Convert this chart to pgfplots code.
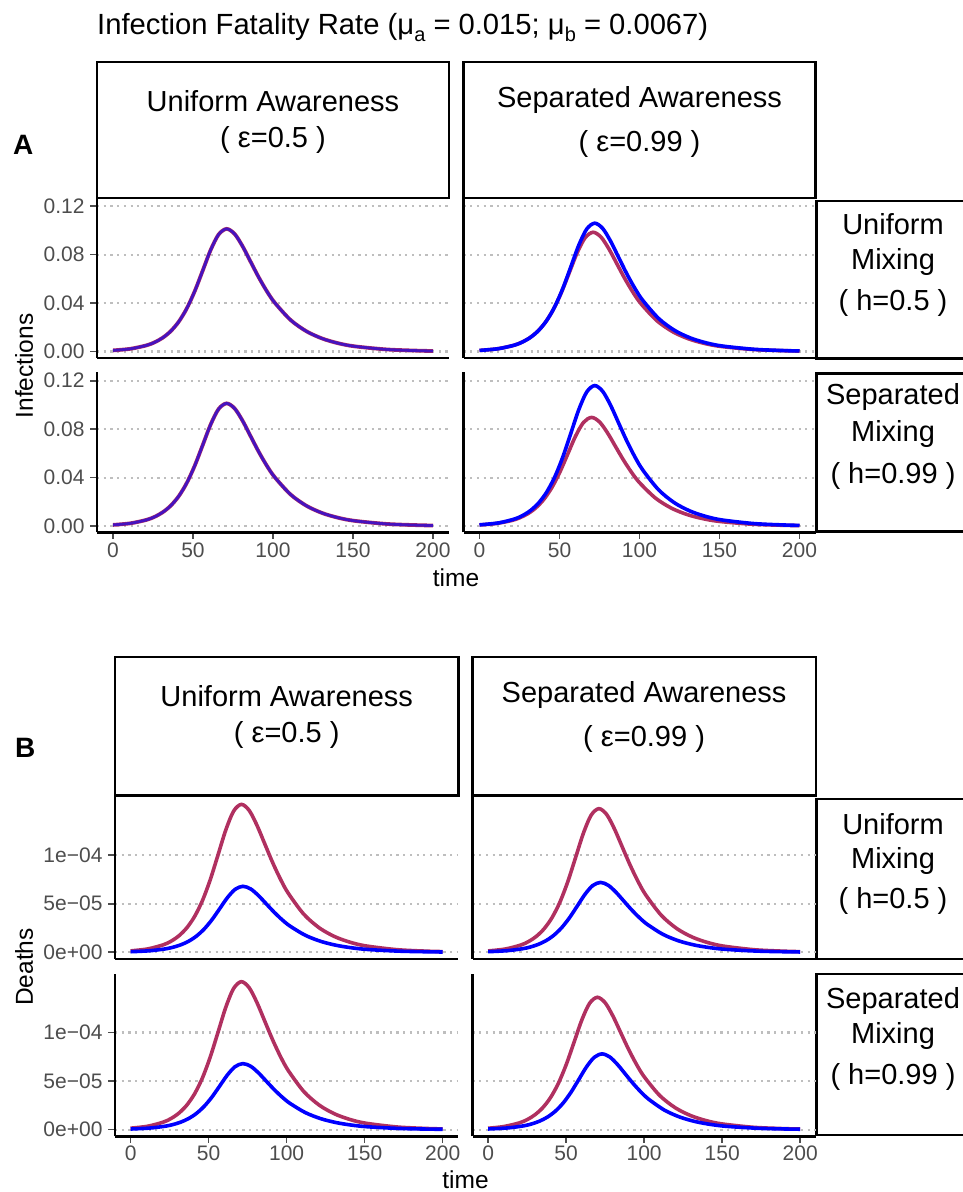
\documentclass[border=0pt]{standalone}
\usepackage{fontspec}
\setmainfont{Liberation Sans}
\usepackage{pgfplots}
\usepackage{pgfplotstable}
\pgfplotsset{compat=1.18}

\definecolor{cred}{HTML}{B03060}
\definecolor{cblue}{HTML}{0000FF}
\definecolor{tickgray}{HTML}{4D4D4D}
\definecolor{gridgray}{HTML}{BEBEBE}
\newcommand\fs[1]{\fontsize{#1}{#1}\selectfont}
\newcommand\sub[1]{\raisebox{-0.25em}{\fs{20}#1}}

% Infections, panel A
\pgfplotstableread{
t v
0 0.00096
11 0.00231
21 0.00514
26 0.00764
31 0.01134
36 0.01673
41 0.02450
46 0.03532
51 0.04958
56 0.06659
61 0.08376
66 0.09665
71 0.1013
76 0.09715
81 0.08692
86 0.07419
91 0.06151
96 0.05014
101 0.04050
111 0.02606
121 0.01666
131 0.01064
141 0.00679
151 0.00433
171 0.00176
191 0.00072
200 0.00048
}\infU
\pgfplotstableread{
t v
0 0.00093
12 0.00242
22 0.00537
27 0.00799
32 0.01186
37 0.01751
42 0.02564
47 0.03696
52 0.05188
57 0.06968
62 0.08765
67 0.10113
72 0.106
77 0.10165
82 0.09095
87 0.07763
92 0.06436
97 0.05247
102 0.04238
112 0.02727
122 0.01744
132 0.01113
142 0.00710
152 0.00453
172 0.00184
192 0.00075
200 0.00052
}\infSUblue
\pgfplotstableread{
t v
0 0.00094
11 0.00225
21 0.00499
26 0.00743
31 0.01102
36 0.01627
41 0.02383
46 0.03435
51 0.04821
56 0.06475
61 0.08145
66 0.09398
71 0.0985
76 0.09446
81 0.08451
86 0.07214
91 0.05981
96 0.04876
101 0.03938
111 0.02534
121 0.01620
131 0.01034
141 0.00660
151 0.00421
171 0.00171
191 0.00070
200 0.00046
}\infSUred
\pgfplotstableread{
t v
0 0.00102
12 0.00264
22 0.00588
27 0.00875
32 0.01298
37 0.01916
42 0.02806
47 0.04045
52 0.05677
57 0.07626
62 0.09592
67 0.11068
72 0.116
77 0.11124
82 0.09953
87 0.08496
92 0.07044
97 0.05742
102 0.04638
112 0.02985
122 0.01908
132 0.01218
142 0.00777
152 0.00495
172 0.00202
192 0.00082
200 0.00057
}\infSSblue
\pgfplotstableread{
t v
0 0.00092
10 0.00205
20 0.00455
25 0.00676
30 0.01004
35 0.01482
40 0.02170
45 0.03128
50 0.04390
55 0.05897
60 0.07417
65 0.08558
70 0.0897
75 0.08602
80 0.07696
85 0.06570
90 0.05447
95 0.04440
100 0.03586
110 0.02308
120 0.01476
130 0.00942
140 0.00601
150 0.00383
170 0.00156
190 0.00064
200 0.00040
}\infSSred

% Deaths, panel B
\pgfplotstableread{
t v
0 0.145e-5
11 0.347e-5
21 0.773e-5
26 1.149e-5
31 1.705e-5
36 2.518e-5
41 3.687e-5
46 5.314e-5
51 7.458e-5
56 10.019e-5
61 12.602e-5
66 14.540e-5
71 15.24e-5
76 14.615e-5
81 13.076e-5
86 11.162e-5
91 9.254e-5
96 7.544e-5
101 6.093e-5
111 3.921e-5
121 2.507e-5
131 1.600e-5
141 1.021e-5
151 0.651e-5
171 0.265e-5
191 0.108e-5
200 0.072e-5
}\deaUred
\pgfplotstableread{
t v
0 0.060e-5
12 0.155e-5
22 0.345e-5
27 0.513e-5
32 0.761e-5
37 1.123e-5
42 1.645e-5
47 2.371e-5
52 3.328e-5
57 4.470e-5
62 5.623e-5
67 6.488e-5
72 6.8e-5
77 6.521e-5
82 5.834e-5
87 4.980e-5
92 4.129e-5
97 3.366e-5
102 2.719e-5
112 1.750e-5
122 1.119e-5
132 0.714e-5
142 0.456e-5
152 0.290e-5
172 0.118e-5
192 0.048e-5
200 0.033e-5
}\deaUblue
\pgfplotstableread{
t v
0 0.141e-5
11 0.337e-5
21 0.750e-5
26 1.116e-5
31 1.656e-5
36 2.445e-5
41 3.580e-5
46 5.161e-5
51 7.243e-5
56 9.730e-5
61 12.238e-5
66 14.121e-5
71 14.8e-5
76 14.193e-5
81 12.698e-5
86 10.840e-5
91 8.987e-5
96 7.326e-5
101 5.917e-5
111 3.808e-5
121 2.435e-5
131 1.554e-5
141 0.992e-5
151 0.632e-5
171 0.258e-5
191 0.105e-5
200 0.070e-5
}\deaSUred
\pgfplotstableread{
t v
0 0.063e-5
12 0.164e-5
22 0.365e-5
27 0.543e-5
32 0.806e-5
37 1.189e-5
42 1.742e-5
47 2.511e-5
52 3.524e-5
57 4.733e-5
62 5.954e-5
67 6.870e-5
72 7.2e-5
77 6.905e-5
82 6.178e-5
87 5.273e-5
92 4.372e-5
97 3.564e-5
102 2.879e-5
112 1.853e-5
122 1.184e-5
132 0.756e-5
142 0.482e-5
152 0.307e-5
172 0.125e-5
192 0.051e-5
200 0.035e-5
}\deaSUblue
\pgfplotstableread{
t v
0 0.140e-5
10 0.311e-5
20 0.691e-5
25 1.028e-5
30 1.525e-5
35 2.252e-5
40 3.297e-5
45 4.753e-5
50 6.671e-5
55 8.960e-5
60 11.271e-5
65 13.004e-5
70 13.63e-5
75 13.071e-5
80 11.695e-5
85 9.983e-5
90 8.276e-5
95 6.747e-5
100 5.449e-5
110 3.507e-5
120 2.242e-5
130 1.431e-5
140 0.913e-5
150 0.582e-5
170 0.237e-5
190 0.097e-5
200 0.061e-5
}\deaSSred
\pgfplotstableread{
t v
0 0.063e-5
13 0.178e-5
23 0.395e-5
28 0.588e-5
33 0.873e-5
38 1.289e-5
43 1.887e-5
48 2.720e-5
53 3.817e-5
58 5.128e-5
63 6.450e-5
68 7.442e-5
73 7.8e-5
78 7.480e-5
83 6.692e-5
88 5.713e-5
93 4.736e-5
98 3.861e-5
103 3.118e-5
113 2.007e-5
123 1.283e-5
133 0.819e-5
143 0.523e-5
153 0.333e-5
173 0.136e-5
193 0.055e-5
200 0.040e-5
}\deaSSblue

\pgfplotsset{
  facet/.style={
    scale only axis, xmin=-10, xmax=210,
    axis x line*=bottom, axis y line*=left,
    axis line style={line width=2.6pt,-},
    tick align=outside, major tick length=6.5pt,
    tick style={line width=1.6pt, color=tickgray},
    tick label style={font=\fs{21}, text=tickgray},
    yticklabel style={xshift=-2.5pt},
    scaled y ticks=false,
    ymajorgrids,
    grid style={gridgray, line width=2.2pt, dash pattern=on 2.2pt off 4.5pt},
    xtick={0,50,100,150,200}, xticklabels={0,50,100,150,200},
    every axis plot/.append style={line width=3.6pt, smooth, no markers},
  },
  rowtop/.style={xtick=\empty},
  colright/.style={yticklabels={}, ytick style={draw=none}},
  panA/.style={facet, width=352pt, height=160pt, ymin=-0.0053, ymax=0.1268,
    ytick={0,0.04,0.08,0.12}, yticklabels={0.00,0.04,0.08,0.12}},
  panB/.style={facet, width=343.3pt, height=162pt, ymin=-6.9e-6, ymax=1.6e-4,
    ytick={0,5e-5,1e-4}, yticklabels={0e+00,5e−05,1e−04}},
}

\begin{document}
\begin{tikzpicture}[x=1pt,y=1pt]
\useasboundingbox (0,0) rectangle (963,1192);

% ---------- panel A ----------
\node[anchor=base west, inner sep=0] at (97,1157.5) {\fs{29.2}Infection Fatality Rate (μ\sub{a} = 0.015; μ\sub{b} = 0.0067)};
\node[anchor=base west, inner sep=0] at (13,1037.7) {\fs{28}\bfseries A};

\draw[line width=2.6pt] (97,1130) rectangle (449,994);
\draw[line width=2.6pt] (463.5,1130) rectangle (815.5,994);
\node[anchor=base, inner sep=0] at (273,1080.3) {\fs{29}Uniform Awareness};
\node[anchor=base, inner sep=0] at (273,1044) {\fs{29}( ε=0.5 )};
\node[anchor=base, inner sep=0] at (639.5,1084.7) {\fs{29}Separated Awareness};
\node[anchor=base, inner sep=0] at (639.5,1040.3) {\fs{29}( ε=0.99 )};

\draw[line width=2.6pt] (816.7,991) rectangle (975,833.7);
\draw[line width=2.6pt] (816.7,818.7) rectangle (975,660.3);
\node[anchor=base, inner sep=0] at (893,957) {\fs{29}Uniform};
\node[anchor=base, inner sep=0] at (893,922) {\fs{29}Mixing};
\node[anchor=base, inner sep=0] at (893,881.5) {\fs{29}( h=0.5 )};
\node[anchor=base, inner sep=0] at (893,787) {\fs{29}Separated};
\node[anchor=base, inner sep=0] at (893,750.3) {\fs{29}Mixing};
\node[anchor=base, inner sep=0] at (893,708.7) {\fs{29}( h=0.99 )};

\node[rotate=90, inner sep=0] at (24,826) {\fs{24.5}Infections};
\node[anchor=base, inner sep=0] at (456,605.3) {\fs{24.5}time};

\begin{axis}[panA, rowtop, at={(97pt,994pt)}, anchor=north west]
\addplot[cred, line width=3.8pt] table[x=t,y=v]{\infU};
\addplot[cblue, line width=2.8pt, opacity=0.6] table[x=t,y=v]{\infU};
\end{axis}
\begin{axis}[panA, rowtop, colright, at={(463.5pt,994pt)}, anchor=north west]
\addplot[cred] table[x=t,y=v]{\infSUred};
\addplot[cblue] table[x=t,y=v]{\infSUblue};
\end{axis}
\begin{axis}[panA, at={(97pt,819.5pt)}, anchor=north west]
\addplot[cred, line width=3.8pt] table[x=t,y=v]{\infU};
\addplot[cblue, line width=2.8pt, opacity=0.6] table[x=t,y=v]{\infU};
\end{axis}
\begin{axis}[panA, colright, at={(463.5pt,819.5pt)}, anchor=north west]
\addplot[cred] table[x=t,y=v]{\infSSred};
\addplot[cblue] table[x=t,y=v]{\infSSblue};
\end{axis}

% ---------- panel B ----------
\node[anchor=base west, inner sep=0] at (15,434.3) {\fs{28}\bfseries B};

\draw[line width=2.6pt] (115,535) rectangle (458.3,396.3);
\draw[line width=2.6pt] (472.5,535) rectangle (815.8,396.3);
\node[anchor=base, inner sep=0] at (286.7,485.3) {\fs{29}Uniform Awareness};
\node[anchor=base, inner sep=0] at (286.7,449) {\fs{29}( ε=0.5 )};
\node[anchor=base, inner sep=0] at (644.1,489.7) {\fs{29}Separated Awareness};
\node[anchor=base, inner sep=0] at (644.1,445.3) {\fs{29}( ε=0.99 )};

\draw[line width=2.6pt] (816.7,393) rectangle (975,233);
\draw[line width=2.6pt] (816.7,218) rectangle (975,57);
\node[anchor=base, inner sep=0] at (893,357.7) {\fs{29}Uniform};
\node[anchor=base, inner sep=0] at (893,323.7) {\fs{29}Mixing};
\node[anchor=base, inner sep=0] at (893,283.7) {\fs{29}( h=0.5 )};
\node[anchor=base, inner sep=0] at (893,183.7) {\fs{29}Separated};
\node[anchor=base, inner sep=0] at (893,148.7) {\fs{29}Mixing};
\node[anchor=base, inner sep=0] at (893,107) {\fs{29}( h=0.99 )};

\node[rotate=90, inner sep=0] at (24,225) {\fs{24.5}Deaths};
\node[anchor=base, inner sep=0] at (465.5,3) {\fs{24.5}time};

\begin{axis}[panB, rowtop, at={(115pt,395pt)}, anchor=north west]
\addplot[cred] table[x=t,y=v]{\deaUred};
\addplot[cblue] table[x=t,y=v]{\deaUblue};
\end{axis}
\begin{axis}[panB, rowtop, colright, at={(472.5pt,395pt)}, anchor=north west]
\addplot[cred] table[x=t,y=v]{\deaSUred};
\addplot[cblue] table[x=t,y=v]{\deaSUblue};
\end{axis}
\begin{axis}[panB, at={(115pt,217.7pt)}, anchor=north west]
\addplot[cred] table[x=t,y=v]{\deaUred};
\addplot[cblue] table[x=t,y=v]{\deaUblue};
\end{axis}
\begin{axis}[panB, colright, at={(472.5pt,217.7pt)}, anchor=north west]
\addplot[cred] table[x=t,y=v]{\deaSSred};
\addplot[cblue] table[x=t,y=v]{\deaSSblue};
\end{axis}
\end{tikzpicture}
\end{document}
